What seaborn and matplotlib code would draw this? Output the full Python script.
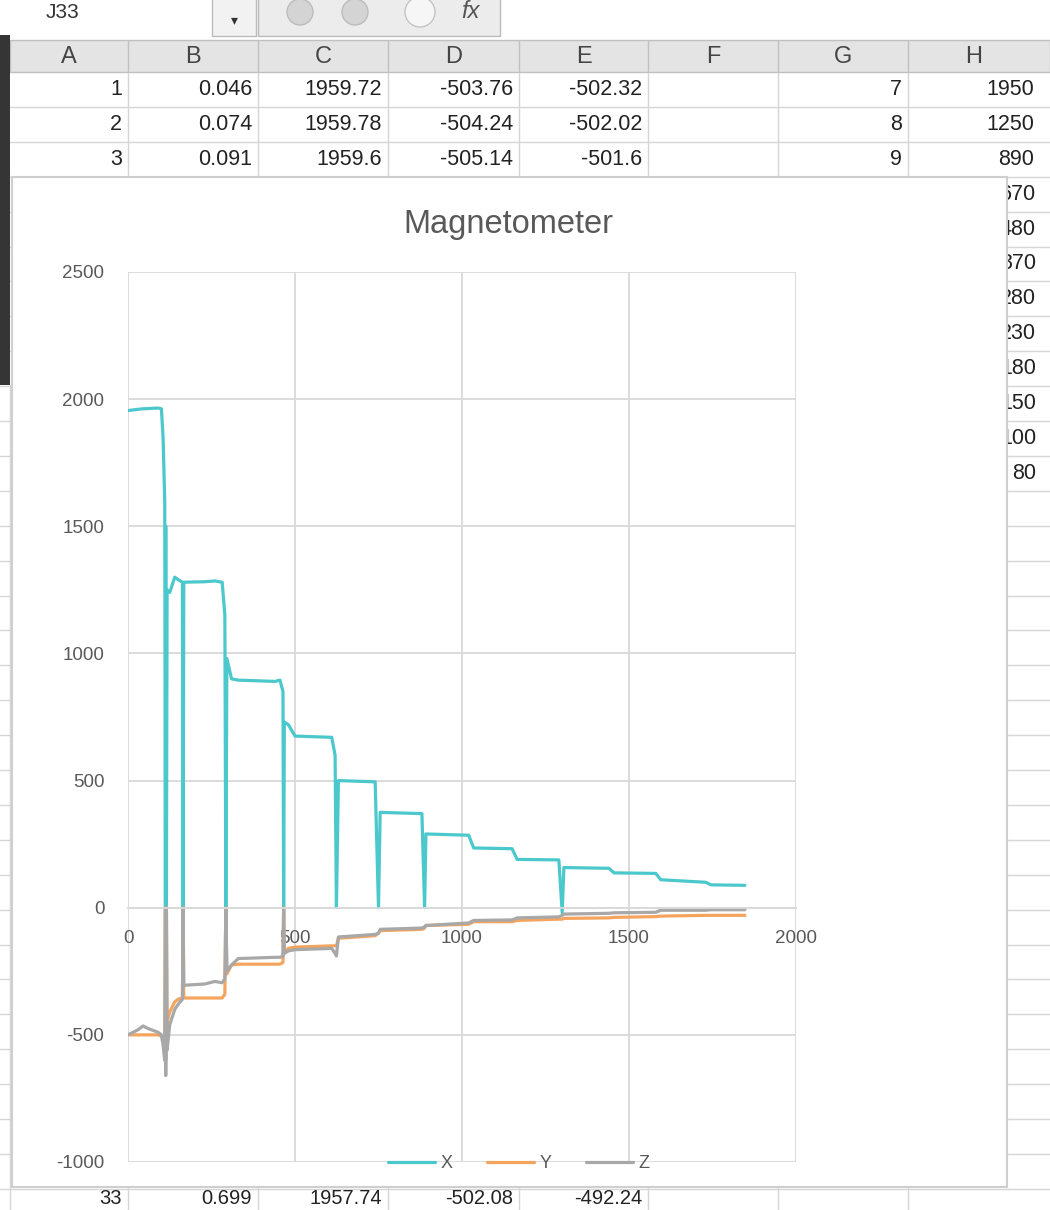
import matplotlib
matplotlib.use("Agg")
import matplotlib.pyplot as plt
import matplotlib.patches as mpatches
import pandas as pd
import seaborn as sns

# -----------------------------
# DATA
# -----------------------------
sample = [0, 30, 45, 60, 90, 100, 105, 110, 112, 113, 115, 117, 125, 140, 150,
          163, 165, 167, 230, 260, 282, 290, 293, 296, 310, 330, 440, 455, 464, 466,
          468, 480, 500, 610, 620, 624, 630, 740, 750, 755, 880, 888, 892, 1020, 1035,
          1150, 1165, 1290, 1300, 1305, 1440, 1455, 1580, 1595, 1730, 1745, 1847]
mag_x = [1955, 1960, 1962, 1963, 1965, 1962, 1850, 1600, 0, 1500, 0, 1250, 1240, 1300, 1290,
         1280, 0, 1280, 1282, 1285, 1280, 1150, 0, 980, 900, 895, 890, 895, 850, 0,
         730, 720, 675, 670, 600, 0, 500, 495, 0, 375, 370, 0, 290, 285, 235,
         232, 190, 188, -20, 158, 155, 137, 135, 110, 100, 90, 88]
mag_y = [-500, -500, -500, -500, -500, -505, -520, -560, 0, -600, 0, -450, -410, -370, -360,
         -355, 0, -355, -355, -355, -355, -340, 0, -260, -225, -222, -222, -222, -215, 0,
         -175, -160, -155, -150, -150, -150, -120, -110, -100, -90, -85, -80, -70, -65, -55,
         -55, -50, -45, -45, -42, -40, -38, -35, -33, -30, -30, -30]
mag_z = [-500, -480, -465, -475, -490, -500, -540, -600, 0, -660, 0, -560, -460, -400, -380,
         -360, 0, -305, -300, -290, -295, -280, 0, -250, -225, -200, -195, -195, -190, 0,
         -180, -170, -165, -160, -180, -190, -115, -105, -100, -85, -80, -75, -70, -60, -50,
         -48, -40, -36, -30, -25, -22, -20, -18, -10, -10, -8, -8]

series_names = ["X", "Y", "Z"]
series_colors = ["#4BC8CC", "#F5A45E", "#A8A8A8"]

x_ticks = [0, 500, 1000, 1500, 2000]
y_ticks = [-1000, -500, 0, 500, 1000, 1500, 2000, 2500]

# spreadsheet cells around the chart
col_letters = ["A", "B", "C", "D", "E", "F", "G", "H"]
top_rows = [["1", "0.046", "1959.72", "-503.76", "-502.32", "", "7", "1950"],
            ["2", "0.074", "1959.78", "-504.24", "-502.02", "", "8", "1250"],
            ["3", "0.091", "1959.6", "-505.14", "-501.6", "", "9", "890"]]
col_h_more = ["670", "480", "370", "280", "230", "180", "150", "100", "80"]
last_row = ["33", "0.699", "1957.74", "-502.08", "-492.24", "", "", ""]

W, H = 1050, 1210
FONT = ["Liberation Sans", "DejaVu Sans"]
GRID = "#d9d9d9"
TXT = "#595959"

sns.set_style("white")
plt.rcParams["font.family"] = FONT
plt.rcParams["axes.unicode_minus"] = False

fig = plt.figure(figsize=(W / 100, H / 100), dpi=100)

# -----------------------------
# SPREADSHEET BACKGROUND
# -----------------------------
bg = fig.add_axes([0, 0, 1, 1])
bg.set_xlim(0, W)
bg.set_ylim(H, 0)
bg.axis("off")

col_edges = [10, 128, 258, 388, 519, 648, 778, 908, 1040]
row_top = 72
row_h = 34.9

# formula bar
bg.text(62, 12, "J33", fontsize=15, color="#333333", ha="center", va="center")
bg.add_patch(mpatches.Rectangle((212, -2), 44, 38, fc="#f2f2f2", ec="#bbbbbb", lw=1))
bg.text(234, 20, "▾", fontsize=10, color="#333333", ha="center", va="center",
        family=["DejaVu Sans"])
bg.add_patch(mpatches.Rectangle((258, -2), 242, 38, fc="#ececec", ec="#bbbbbb", lw=1))
for cx in [300, 355]:
    bg.add_patch(mpatches.Circle((cx, 12), 13, fc="#d4d4d4", ec="#bdbdbd", lw=1))
bg.add_patch(mpatches.Circle((420, 12), 15, fc="#f6f6f6", ec="#c4c4c4", lw=1))
bg.text(470, 12, "fx", fontsize=17, color="#555555", ha="center", va="center", style="italic")

# cell grid
for k in range(33):
    yy = row_top + row_h * (k + 1)
    bg.plot([10, W], [yy, yy], color="#d6d6d6", lw=1)
    if yy > 385:
        bg.plot([0, 10], [yy, yy], color="#d6d6d6", lw=1)
for xe in col_edges[1:-1]:
    bg.plot([xe, xe], [72, H], color="#d6d6d6", lw=1)
bg.plot([10, 10], [385, H], color="#d6d6d6", lw=1)

# dark strip on the left
bg.add_patch(mpatches.Rectangle((0, 35), 10, 350, fc="#353535", ec="none", zorder=3))

# column header row
bg.add_patch(mpatches.Rectangle((10, 40), W - 10, 32, fc="#e4e4e4", ec="#c0c0c0", lw=1))
for i, letter in enumerate(col_letters):
    xc = (col_edges[i] + col_edges[i + 1]) / 2
    bg.text(xc, 57, letter, fontsize=17, color="#444444", ha="center", va="center")
for xe in col_edges[1:-1]:
    bg.plot([xe, xe], [40, 72], color="#c0c0c0", lw=1)

# cell values
for r, row in enumerate(top_rows):
    yc = row_top + row_h * (r + 0.5)
    for i, val in enumerate(row):
        if val:
            bg.text(col_edges[i + 1] - 6, yc, val, fontsize=15.5, color="#222222",
                    ha="right", va="center")
for r, val in enumerate(col_h_more):
    yc = row_top + row_h * (r + 3.5)
    bg.text(col_edges[8] - 4, yc, val, fontsize=15.5, color="#222222", ha="right", va="center")
for i, val in enumerate(last_row):
    if val:
        bg.text(col_edges[i + 1] - 6, 1198, val, fontsize=14.5, color="#222222",
                ha="right", va="center")

# chart area
bg.add_patch(mpatches.Rectangle((12, 177), 995, 1010, fc="white", ec="#cfcfcf", lw=1.5,
                                zorder=5))
bg.text(508, 224, "Magnetometer", fontsize=23.5, color=TXT, ha="center", va="center",
        zorder=6)

# -----------------------------
# MAGNETOMETER PLOT
# -----------------------------
df = pd.DataFrame({"sample": sample, "X": mag_x, "Y": mag_y, "Z": mag_z})
long_df = df.melt(id_vars="sample", value_vars=series_names, var_name="axis", value_name="value")

ax = fig.add_axes([128 / W, 1 - 1162 / H, (796 - 128) / W, (1162 - 272) / H])
ax.set_facecolor("none")
sns.lineplot(data=long_df, x="sample", y="value", hue="axis", hue_order=series_names,
             palette=dict(zip(series_names, series_colors)), estimator=None, sort=False,
             linewidth=2.3, ax=ax)

ax.set_xlim(0, 2000)
ax.set_ylim(-1000, 2500)
ax.set_xticks(x_ticks)
ax.set_yticks(y_ticks)
ax.grid(True, color=GRID, linewidth=1.3)
ax.set_axisbelow(True)
for side in ["top", "left", "right"]:
    ax.spines[side].set_visible(False)
ax.spines["bottom"].set_position(("data", 0))
ax.spines["bottom"].set_color(GRID)
ax.spines["bottom"].set_linewidth(1.3)
ax.tick_params(axis="x", length=0, pad=16, labelsize=13.5, labelcolor=TXT)
ax.tick_params(axis="y", length=0, pad=17, labelsize=13.5, labelcolor=TXT)
ax.set_xlabel("")
ax.set_ylabel("")

ax.legend(loc="lower center", bbox_to_anchor=(0.585, -0.03), ncol=3, frameon=False,
          handlelength=2.6, handletextpad=0.3, columnspacing=1.9, fontsize=13,
          labelcolor=TXT)

fig.savefig("out.png", dpi=100)
plt.close(fig)
